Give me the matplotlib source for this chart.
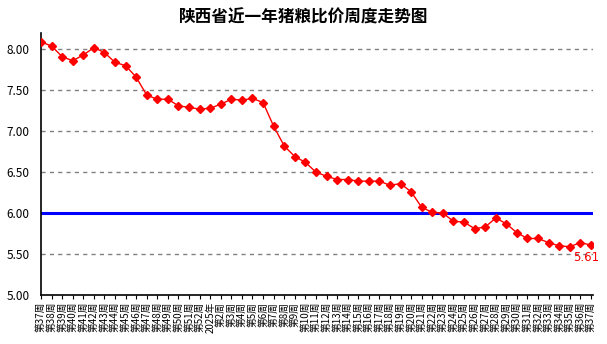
import matplotlib.pyplot as plt

plt.rcParams['font.family'] = ['Noto Sans CJK SC', 'DejaVu Sans']

weeks = [f"第{w}周" for w in range(37, 53)] + ["2025年"] + [f"第{w}周" for w in range(2, 38)]
prices = [
    8.09, 8.04, 7.91, 7.86, 7.93, 8.02, 7.96, 7.84, 7.80, 7.66,
    7.44, 7.39, 7.39, 7.31, 7.29, 7.27, 7.28, 7.33, 7.39, 7.38,
    7.40, 7.35, 7.06, 6.82, 6.69, 6.62, 6.50, 6.45, 6.41, 6.41,
    6.39, 6.39, 6.39, 6.34, 6.36, 6.26, 6.07, 6.01, 6.00, 5.90,
    5.89, 5.81, 5.83, 5.94, 5.87, 5.76, 5.69, 5.69, 5.64, 5.60,
    5.59, 5.64, 5.61,
]
break_even = 6.00
y_ticks = [5.00, 5.50, 6.00, 6.50, 7.00, 7.50, 8.00]

fig = plt.figure(figsize=(6.07, 3.44), dpi=100)
ax = fig.add_axes([0.0675, 0.1424, 0.9095, 0.762])

x = list(range(len(prices)))

for v in y_ticks[1:]:
    ax.axhline(v, color="#808080", linestyle=(0, (3, 3)), linewidth=1, zorder=1)
ax.axhline(break_even, color="#0000ff", linewidth=2.2, zorder=2)

ax.plot(x, prices, color="#ff0000", linewidth=1, marker="D", markersize=4.5, zorder=3)
ax.annotate(f"{prices[-1]:.2f}", (x[-1], prices[-1]), xytext=(6, -9),
            textcoords="offset points", ha="right", va="center",
            color="#ff0000", fontsize=8.5, family="DejaVu Sans")

ax.set_xlim(0, len(prices) - 0.8)
ax.set_ylim(5.0, 8.2)
ax.set_yticks(y_ticks)
ax.set_yticklabels([f"{v:.2f}" for v in y_ticks], fontsize=8.5)
ax.set_xticks(x)
ax.set_xticklabels(weeks, rotation=90, fontsize=7)
ax.tick_params(axis="y", length=0, pad=8)
ax.tick_params(axis="x", length=3, pad=2)

for side in ["top", "right"]:
    ax.spines[side].set_visible(False)
ax.spines["left"].set_linewidth(1.2)
ax.spines["bottom"].set_linewidth(1.2)

fig.text(0.5, 0.948, "陕西省近一年猪粮比价周度走势图", ha="center", va="center",
         fontsize=12, fontweight="bold")

fig.savefig("out.png", dpi=100)
